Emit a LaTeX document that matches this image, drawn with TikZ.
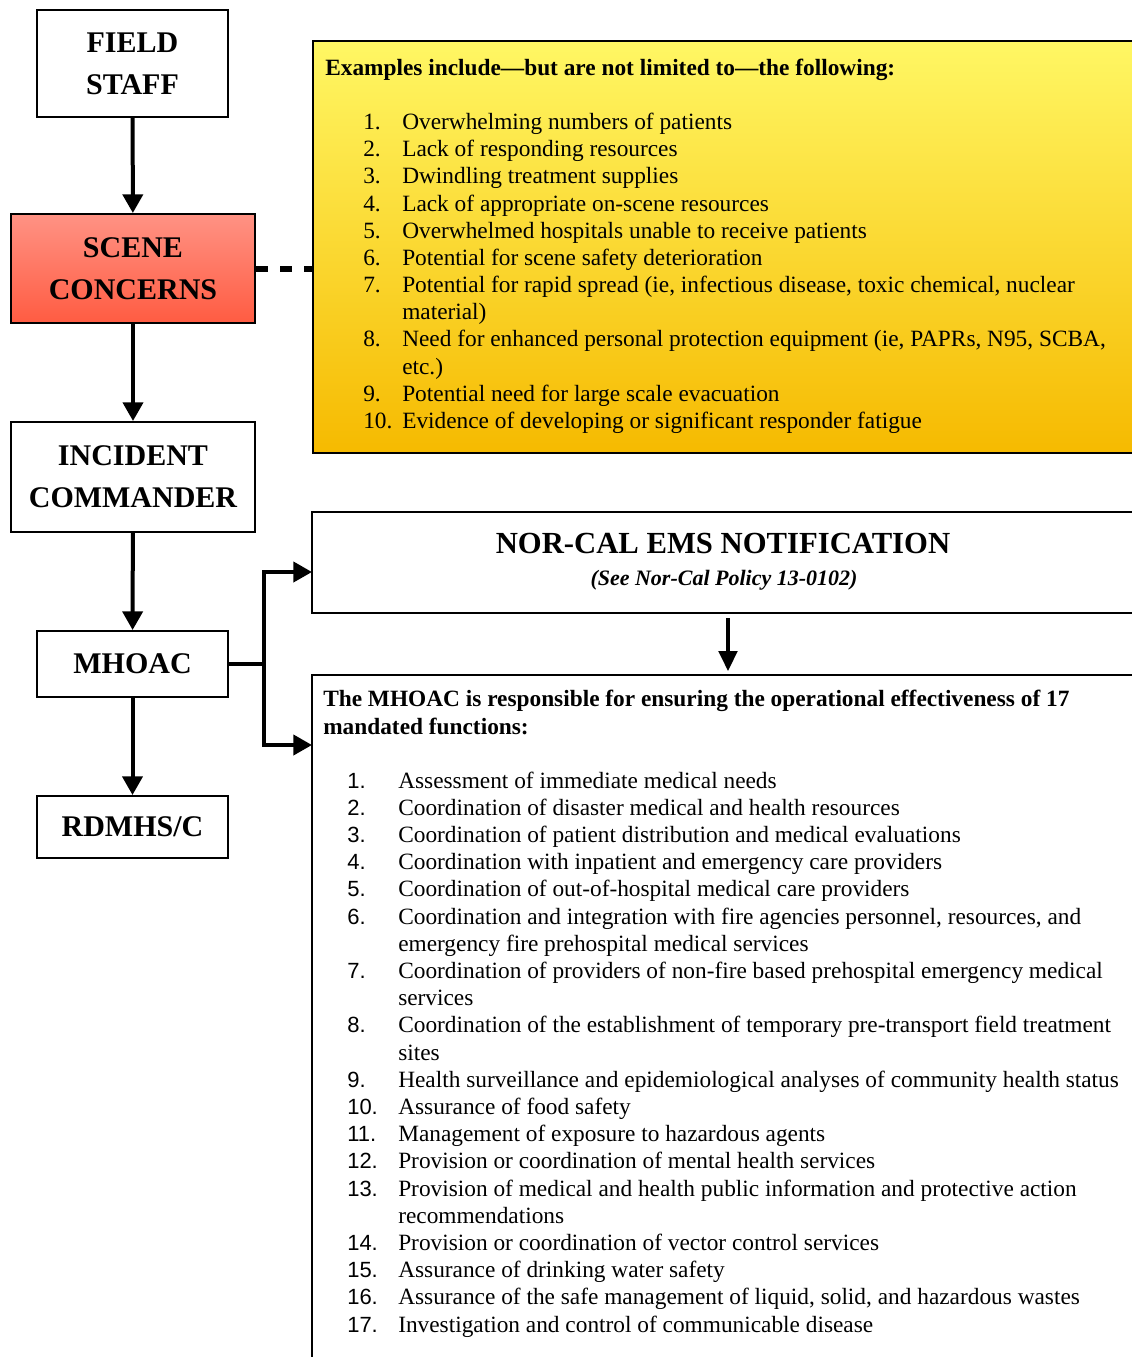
\documentclass[tikz,border=0pt]{standalone}
\usepackage{fontspec}
\setmainfont{Liberation Serif}
\newfontfamily\numfont{Liberation Sans}
\usetikzlibrary{arrows.meta}
\definecolor{redtop}{RGB}{255,146,132}
\definecolor{redbot}{RGB}{255,92,66}
\definecolor{yeltop}{RGB}{255,247,100}
\definecolor{yelbot}{RGB}{246,186,0}
\tikzset{
  box/.style={draw=black, line width=1.5pt, align=center, inner sep=0pt,
    font=\fontsize{22.5}{31.5}\selectfont\bfseries},
  panel/.style={draw=black, line width=1.5pt, inner sep=0pt},
  arr/.style={line width=3pt, line join=miter, -{Triangle[width=15pt,length=14pt]}},
  thinarr/.style={line width=2.6pt, -{Triangle[width=14pt,length=15pt]}},
  txt/.style={anchor=base west, inner sep=0pt, font=\fontsize{17.5}{20}\selectfont},
  htxt/.style={txt, font=\fontsize{17.5}{20}\selectfont\bfseries},
  stxt/.style={anchor=base west, inner sep=0pt, font=\fontsize{16.5}{20}\selectfont\numfont},
}
\begin{document}
\begin{tikzpicture}[x=0.75pt,y=-0.75pt]
\clip (0,0) rectangle (1132,1357);
\fill[white] (0,0) rectangle (1132,1357);

% left column boxes
\node[box, minimum width={191*0.75pt}, minimum height={107*0.75pt}] (fs) at (132.5,63.5) {FIELD\\STAFF};
\node[box, top color=redtop, bottom color=redbot, minimum width={244*0.75pt}, minimum height={109*0.75pt}] (sc) at (133,268.5) {SCENE\\CONCERNS};
\node[box, minimum width={244*0.75pt}, minimum height={110*0.75pt}] (ic) at (133,477) {INCIDENT\\COMMANDER};
\node[box, minimum width={191*0.75pt}, minimum height={66*0.75pt}] (mh) at (132.5,664) {MHOAC};
\node[box, minimum width={191*0.75pt}, minimum height={62*0.75pt}] (rd) at (132.5,827) {RDMHS/C};

% right panels
\node[panel, top color=yeltop, bottom color=yelbot, minimum width={832*0.75pt}, minimum height={412*0.75pt}] (ex) at (729,247) {};
\node[panel, fill=white, minimum width={832*0.75pt}, minimum height={101*0.75pt}] (nc) at (728,562.5) {};
\node[panel, fill=white, minimum width={832*0.75pt}, minimum height={720*0.75pt}] (mf) at (728,1035) {};

% connectors
\draw[arr] (fs) -- (sc);
\draw[arr] (sc) -- (ic);
\draw[arr] (ic) -- (mh);
\draw[arr] (mh) -- (rd);
\draw[line width=4.5pt, dash pattern=on 9pt off 9pt] (sc.east) -- (sc.east -| ex.west);
\coordinate (t1) at (312,572);
\coordinate (t2) at (312,745);
\draw[arr] (mh.east) -- ++(35,0) |- (t1);
\draw[arr] (mh.east) -- ++(35,0) |- (t2);
\draw[thinarr, shorten <=3pt, shorten >=2.25pt] (nc.south) -- (nc.south |- mf.north);

% NOR-CAL texts
\node[anchor=base, inner sep=0pt, font=\fontsize{23}{26}\selectfont\bfseries] (nct) at (723,553) {NOR-CAL EMS NOTIFICATION};
\node[anchor=base, inner sep=0pt, font=\fontsize{16.5}{20}\selectfont\bfseries\itshape] (ncs) at (724,585) {(See Nor-Cal Policy 13-0102)};

% yellow panel text
\node[htxt] (exh) at (325,75) {Examples include---but are not limited to---the following:};
\foreach \y/\n [count=\i] in {129/1.,156/2.,183/3.,211/4.,238/5.,265/6.,292/7.,346/8.,401/9.,428/10.}
  \node[txt] (en\i) at (363,\y) {\n};
\foreach \y/\t [count=\i] in {
  129/{Overwhelming numbers of patients},
  156/{Lack of responding resources},
  183/{Dwindling treatment supplies},
  211/{Lack of appropriate on-scene resources},
  238/{Overwhelmed hospitals unable to receive patients},
  265/{Potential for scene safety deterioration},
  292/{Potential for rapid spread (ie, infectious disease, toxic chemical, nuclear},
  319/{material)},
  346/{Need for enhanced personal protection equipment (ie, PAPRs, N95, SCBA,},
  374/{etc.)},
  401/{Potential need for large scale evacuation},
  428/{Evidence of developing or significant responder fatigue}}
  \node[txt] (et\i) at (402,\y) {\t};

% functions panel text
\node[htxt] (mfh1) at (323,706) {The MHOAC is responsible for ensuring the operational effectiveness of 17};
\node[htxt] (mfh2) at (323,734) {mandated functions:};
\foreach \y/\n [count=\i] in {788/1.,815.2/2.,842.4/3.,869.6/4.,896.8/5.,924/6.,978.4/7.,1032.8/8.,1087.2/9.,1114.4/10.,1141.6/11.,1168.8/12.,1196/13.,1250.4/14.,1277.6/15.,1304.8/16.,1332/17.}
  \node[stxt] (mn\i) at (347,\y) {\n};
\foreach \y/\t [count=\i] in {
  788/{Assessment of immediate medical needs},
  815.2/{Coordination of disaster medical and health resources},
  842.4/{Coordination of patient distribution and medical evaluations},
  869.6/{Coordination with inpatient and emergency care providers},
  896.8/{Coordination of out-of-hospital medical care providers},
  924/{Coordination and integration with fire agencies personnel, resources, and},
  951.2/{emergency fire prehospital medical services},
  978.4/{Coordination of providers of non-fire based prehospital emergency medical},
  1005.6/{services},
  1032.8/{Coordination of the establishment of temporary pre-transport field treatment},
  1060/{sites},
  1087.2/{Health surveillance and epidemiological analyses of community health status},
  1114.4/{Assurance of food safety},
  1141.6/{Management of exposure to hazardous agents},
  1168.8/{Provision or coordination of mental health services},
  1196/{Provision of medical and health public information and protective action},
  1223.2/{recommendations},
  1250.4/{Provision or coordination of vector control services},
  1277.6/{Assurance of drinking water safety},
  1304.8/{Assurance of the safe management of liquid, solid, and hazardous wastes},
  1332/{Investigation and control of communicable disease}}
  \node[txt] (mt\i) at (398,\y) {\t};
\end{tikzpicture}
\end{document}
